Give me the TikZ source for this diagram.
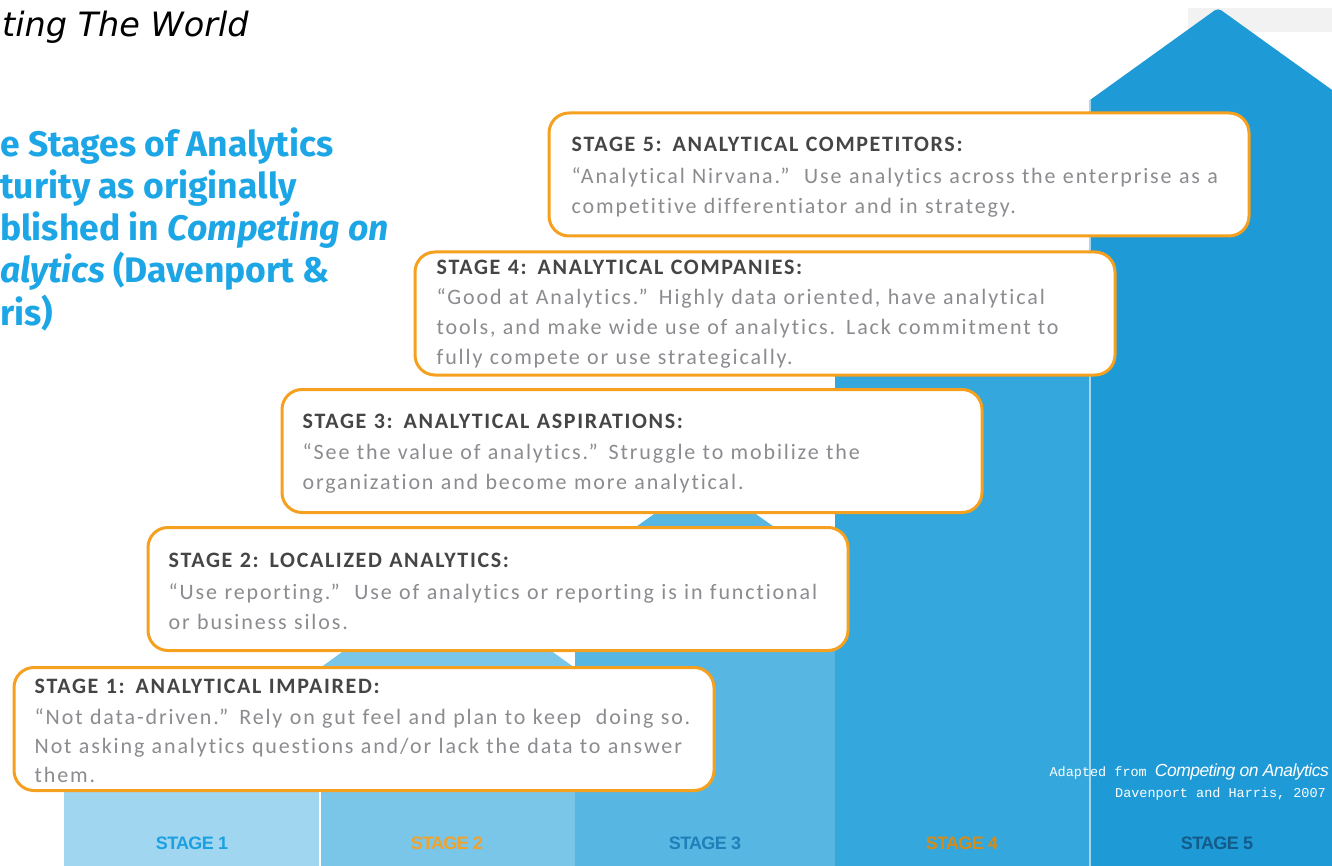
\documentclass[tikz,border=0pt]{standalone}
\usepackage{fontspec}
\setmainfont{Carlito}
\newfontfamily\boxtitlefont[LetterSpace=7.5,WordSpace=0.45,Ligatures=NoCommon]{Carlito}
\newfontfamily\boxbodyfont[LetterSpace=8.5,WordSpace=0.55,Ligatures=NoCommon]{Carlito}
\newfontfamily\headfont{Fira Sans}
\newfontfamily\worldfont{DejaVu Sans}
\newfontfamily\stagefont[LetterSpace=-4]{Liberation Sans}
\newfontfamily\notemono{Liberation Mono}
\newfontfamily\noteit[LetterSpace=-3]{Liberation Sans}
\definecolor{sA}{HTML}{A0D6F0}
\definecolor{sB}{HTML}{7AC6E8}
\definecolor{sC}{HTML}{58B7E2}
\definecolor{sD}{HTML}{34A8DC}
\definecolor{sE}{HTML}{1E9AD6}
\definecolor{boxorange}{HTML}{F5A01E}
\definecolor{titlegray}{HTML}{454545}
\definecolor{bodygray}{HTML}{8C8C90}
\definecolor{headblue}{HTML}{1CA6E6}
\definecolor{lblA}{HTML}{1BA1E2}
\definecolor{lblB}{HTML}{F0A22E}
\definecolor{lblC}{HTML}{1F7FB8}
\definecolor{lblD}{HTML}{D88A16}
\definecolor{lblE}{HTML}{135C8A}
\newcommand{\bt}[1]{{\boxtitlefont\bfseries\fontsize{22}{30}\selectfont\color{titlegray}#1}}
\begin{document}
\begin{tikzpicture}[x=1pt,y=-1pt,
  stagebox/.style={draw=boxorange, line width=3pt, fill=white, rounded corners=20pt,
    minimum width=700pt, minimum height=123pt, inner sep=0pt, anchor=center},
  stagetext/.style={anchor=west, inner sep=0pt, text width=690pt, align=left,
    text=bodygray, font=\boxbodyfont\fontsize{22}{30}\selectfont},
  headline/.style={anchor=base west, inner sep=0pt, text=headblue,
    font=\headfont\bfseries\fontsize{35.5}{43}\selectfont},
  stagelabel/.style={anchor=center, inner sep=0pt,
    font=\stagefont\bfseries\fontsize{18}{18}\selectfont},
  seam/.style={draw=white, line width=1.2pt}
]
\useasboundingbox (0,0) rectangle (1332,866);
\clip (0,0) rectangle (1332,866);
\fill[white] (0,0) rectangle (1332,866);
% background gray strip
\fill[black!5] (1188,8) rectangle (1332,32);
% arrow columns
\fill[sA] (64,880) -- (64,770) -- (192,678) -- (320,770) -- (320,880) -- cycle;
\fill[sB] (320,880) -- (320,668) -- (447,576) -- (575,668) -- (575,880) -- cycle;
\fill[sC] (575,880) -- (575,570) -- (705,478) -- (835,570) -- (835,880) -- cycle;
\fill[sD] (835,880) -- (835,372) -- (962,280) -- (1090,372) -- (1090,880) -- cycle;
\fill[sE] (1090,880) -- (1090,100) [rounded corners=4pt] -- (1218,8) [sharp corners] -- (1346,100) -- (1346,880) -- cycle;
\coordinate (seamAt) at (320,770);
\coordinate (seamAb) at (320,870);
\coordinate (seamBt) at (1090,100);
\coordinate (seamBb) at (1090,870);
\draw[seam] (seamAt) -- (seamAb);
\draw[seam, draw=white!60!sE] (seamBt) -- (seamBb);
% top titles
\node[anchor=base west, inner sep=0pt] (world) at (2,37) {\worldfont\itshape\fontsize{33.5}{38}\selectfont ting The World};
\node[headline] (h1) at (0,157) {e Stages of Analytics};
\node[headline] (h2) at (0,199) {turity as originally};
\node[headline] (h3) at (0,241) {blished in \itshape Competing on};
\node[headline] (h4) at (0,283) {{\itshape alytics} (Davenport \&};
\node[headline] (h5) at (0,325) {ris)};
% stage boxes
\node[stagebox] (b5) at (899,174.5) {};
\node[stagebox] (b4) at (765,313.5) {};
\node[stagebox] (b3) at (632,451) {};
\node[stagebox] (b2) at (498,589) {};
\node[stagebox] (b1) at (364,729) {};
\node[stagetext] (t5) at ([xshift=24pt,yshift=-3pt]b5.west) {\bt{STAGE 5: ANALYTICAL COMPETITORS:}\\[2pt]
“Analytical Nirvana.”\ \ Use analytics across the enterprise as a\\ competitive differentiator and in strategy.};
\node[stagetext] (t4) at ([xshift=23pt,yshift=-1pt]b4.west) {\bt{STAGE 4: ANALYTICAL COMPANIES:}\\
“Good at Analytics.” Highly data oriented, have analytical\\ tools, and make wide use of analytics. Lack commitment to\\ fully compete or use strategically.};
\node[stagetext] (t3) at ([xshift=22pt,yshift=-3pt]b3.west) {\bt{STAGE 3: ANALYTICAL ASPIRATIONS:}\\[1pt]
“See the value of analytics.” Struggle to mobilize the\\ organization and become more analytical.};
\node[stagetext] (t2) at ([xshift=22pt,yshift=-2pt]b2.west) {\bt{STAGE 2: LOCALIZED ANALYTICS:}\\[2pt]
“Use reporting.”\ \ Use of analytics or reporting is in functional\\ or business silos.};
\node[stagetext, font=\boxbodyfont\fontsize{22}{29}\selectfont] (t1) at ([xshift=22pt,yshift=-2pt]b1.west) {\bt{STAGE 1: ANALYTICAL IMPAIRED:}\\[2pt]
“Not data-driven.” Rely on gut feel and plan to keep\ \ doing so.\\ Not asking analytics questions and/or lack the data to answer\\ them.};
% stage labels
\node[stagelabel, text=lblA] (l1) at (192,843) {STAGE 1};
\node[stagelabel, text=lblB] (l2) at (447,843) {STAGE 2};
\node[stagelabel, text=lblC] (l3) at (705,843) {STAGE 3};
\node[stagelabel, text=lblD] (l4) at (962,843) {STAGE 4};
\node[stagelabel, text=lblE] (l5) at (1217,843) {STAGE 5};
% source note
\node[anchor=base east, inner sep=0pt, text=white] (n1) at (1329,776) {\notemono\fontsize{13.5}{16}\selectfont Adapted from \noteit\itshape\fontsize{17.5}{16}\selectfont Competing on Analytics};
\node[anchor=base east, inner sep=0pt, text=white] (n2) at (1326,797) {\notemono\fontsize{13.5}{16}\selectfont Davenport and Harris, 2007};
\end{tikzpicture}
\end{document}
